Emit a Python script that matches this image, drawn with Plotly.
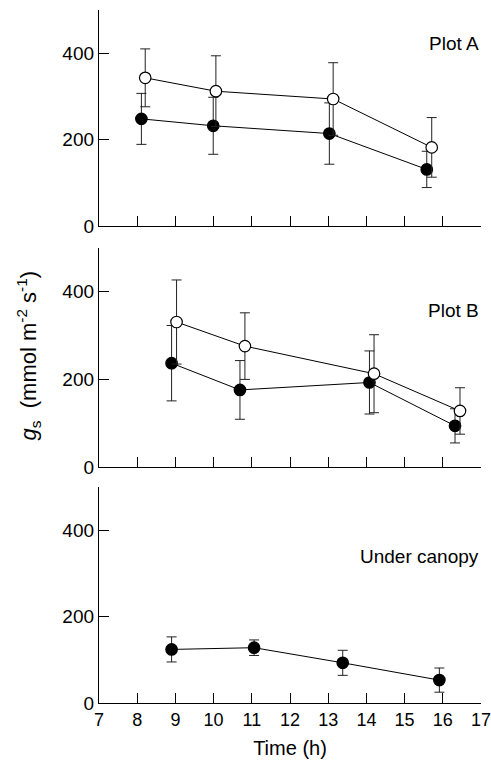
import plotly.graph_objects as go
from plotly.subplots import make_subplots

# Plot A
a_open_x = [8.21, 10.06, 13.13, 15.71]
a_open_y = [343, 312, 294, 182]
a_open_err = [67, 82, 84, 69]
a_fill_x = [8.11, 9.99, 13.03, 15.58]
a_fill_y = [248, 232, 214, 131]
a_fill_err = [59, 66, 71, 42]

# Plot B
b_open_x = [9.03, 10.82, 14.20, 16.45]
b_open_y = [331, 276, 213, 128]
b_open_err = [96, 76, 89, 53]
b_fill_x = [8.90, 10.69, 14.08, 16.32]
b_fill_y = [237, 176, 193, 94]
b_fill_err = [86, 67, 72, 39]

# Under canopy
c_x = [8.90, 11.06, 13.38, 15.91]
c_y = [124, 128, 93, 53]
c_err = [29, 18, 29, 28]

panel_labels = ["Plot A", "Plot B", "Under canopy"]
x_ticks = list(range(7, 18))
y_ticks = [0, 200, 400]

FONT = "Liberation Sans, Arial, Helvetica, sans-serif"

fig = make_subplots(rows=3, cols=1, shared_xaxes=False, vertical_spacing=0.03)

def add_series(x, y, err, row, filled):
    fig.add_trace(go.Scatter(
        x=x, y=y, mode="lines+markers",
        line=dict(color="black", width=1),
        marker=dict(size=11.5, symbol="circle",
                    color="black" if filled else "white",
                    line=dict(color="black", width=1.2)),
        error_y=dict(type="data", array=err, visible=True,
                     color="#222", thickness=1, width=5),
        showlegend=False,
    ), row=row, col=1)

add_series(a_fill_x, a_fill_y, a_fill_err, 1, True)
add_series(a_open_x, a_open_y, a_open_err, 1, False)
add_series(b_fill_x, b_fill_y, b_fill_err, 2, True)
add_series(b_open_x, b_open_y, b_open_err, 2, False)
add_series(c_x, c_y, c_err, 3, True)

domains = [(0.6883, 1.0), (0.3405, 0.6566), (0.0, 0.3117)]
for i in range(3):
    r = i + 1
    fig.update_yaxes(row=r, col=1, domain=list(domains[i]), range=[0, 500],
                     tickvals=y_ticks, ticks="inside", ticklen=10,
                     tickcolor="black", tickwidth=1.3,
                     showline=True, linecolor="black", linewidth=1.3,
                     showgrid=False, zeroline=False, automargin=False,
                     tickfont=dict(family=FONT, size=19, color="black"))
    fig.update_xaxes(row=r, col=1, range=[7, 17], tickvals=x_ticks,
                     ticks="inside", ticklen=10, tickcolor="black", tickwidth=1.3,
                     showline=True, linecolor="black", linewidth=1.3,
                     showgrid=False, zeroline=False, automargin=False,
                     showticklabels=(r == 3), ticklabeloverflow="allow",
                     tickfont=dict(family=FONT, size=18, color="black"))

fig.update_xaxes(row=3, col=1, title=dict(text="Time (h)", font=dict(family=FONT, size=20, color="black"), standoff=12))

label_y = [423, 358, 339]
for i, (txt, yy) in enumerate(zip(panel_labels, label_y)):
    ref = "" if i == 0 else str(i + 1)
    fig.add_annotation(text=txt, xref="x" + ref + " domain", yref="y" + ref,
                       x=1.0, y=yy, xanchor="right", yanchor="middle",
                       showarrow=False,
                       font=dict(family=FONT, size=19, color="black"))

fig.add_annotation(text="<i>g</i><sub>s</sub>  (mmol m<sup>-2</sup> s<sup>-1</sup>)",
                   xref="paper", yref="paper", x=-0.185, y=0.502,
                   xanchor="center", yanchor="middle", textangle=-90,
                   showarrow=False,
                   font=dict(family=FONT, size=22, color="black"))

fig.update_layout(width=491, height=764,
                  margin=dict(l=99, r=10, t=10, b=61, autoexpand=False),
                  plot_bgcolor="white", paper_bgcolor="white",
                  showlegend=False)

fig.write_html("out.html")
